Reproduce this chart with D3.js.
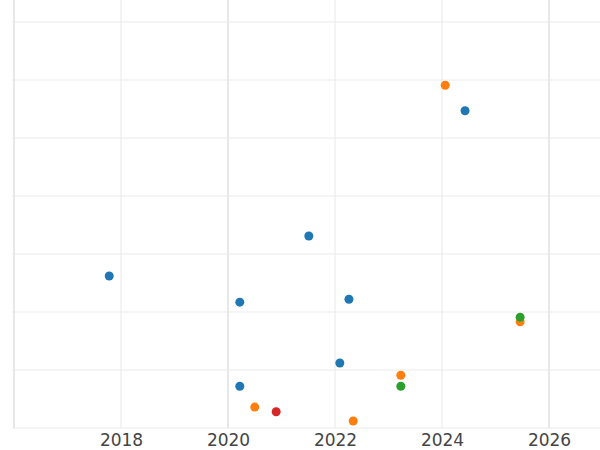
<!DOCTYPE html>
<html><head><meta charset="utf-8">
<script src="https://cdn.jsdelivr.net/npm/d3@7"></script>
<style>body{margin:0;background:#fff}</style></head>
<body><div id="chart"></div>
<script>
const years = [2017.78, 2020.22, 2021.51, 2022.26, 2022.09, 2020.22, 2024.43,
  2024.06, 2020.50, 2022.34, 2023.23, 2025.46,
  2023.23, 2025.46,
  2020.90]
const values = [2.62, 2.17, 3.31, 2.22, 1.12, 0.72, 5.47,
  5.91, 0.36, 0.12, 0.91, 1.83,
  0.72, 1.91,
  0.28]
const groups = ['a','a','a','a','a','a','a','b','b','b','b','b','c','c','d']
const colors = {a: '#1f77b4', b: '#ff7f0e', c: '#2ca02c', d: '#d62728'}
const xTicks = [2018, 2020, 2022, 2024, 2026]
const xGrid = [2016, 2018, 2020, 2022, 2024, 2026]
const thickGrid = [2016, 2020, 2026]
const yGrid = [0, 1, 2, 3, 4, 5, 6, 7]

const width = 600, height = 450
const svg = d3.select('#chart').append('svg').attr('width', width).attr('height', height)

const x = d3.scaleLinear().domain([2016, 2026.99]).range([14, 602])
const y = d3.scaleLinear().domain([0, 7]).range([428, 22])

svg.append('g').selectAll('line').data(yGrid).enter().append('line')
	.attr('x1', 12).attr('x2', width)
	.attr('y1', d => y(d)).attr('y2', d => y(d))
	.attr('stroke', '#ebebeb').attr('stroke-width', 1)

svg.append('g').selectAll('line').data(xGrid).enter().append('line')
	.attr('x1', d => x(d)).attr('x2', d => x(d))
	.attr('y1', 0).attr('y2', 428)
	.attr('stroke', '#e8e8e8')
	.attr('stroke-width', d => thickGrid.includes(d) ? 2 : 1)

const axis = d3.axisBottom(x).tickValues(xTicks).tickFormat(d3.format('d')).tickSize(0).tickPadding(6)
const ax = svg.append('g').attr('transform', 'translate(0,428)').call(axis)
ax.select('.domain').remove()
ax.selectAll('text').attr('font-family', 'DejaVu Sans').attr('font-size', 17).attr('fill', '#444')

svg.append('g').selectAll('circle').data(years).enter().append('circle')
	.attr('cx', d => x(d))
	.attr('cy', (d, i) => y(values[i]))
	.attr('r', 4.5)
	.attr('fill', (d, i) => colors[groups[i]])
</script></body></html>
